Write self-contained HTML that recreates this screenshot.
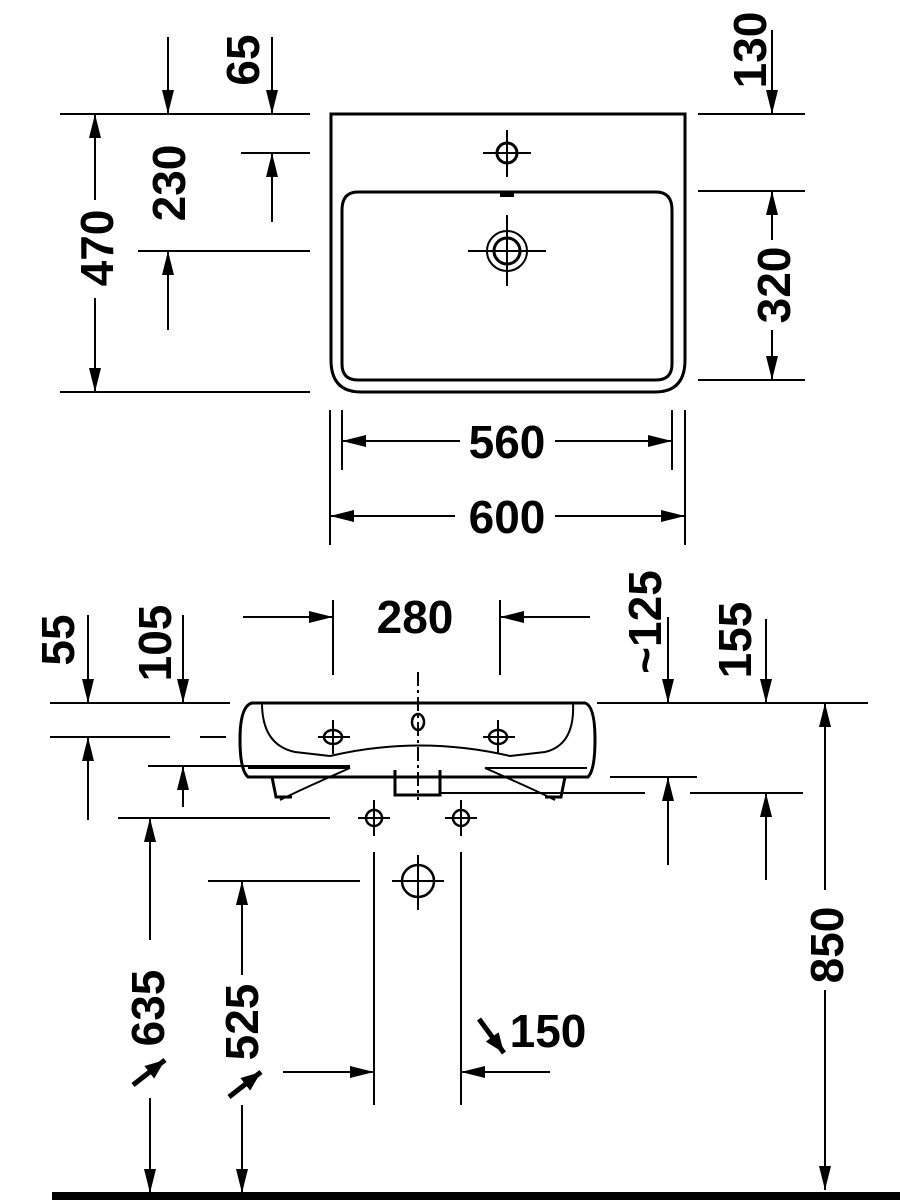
<!DOCTYPE html>
<html><head><meta charset="utf-8"><style>
html,body{margin:0;padding:0;background:#fff;}
svg{display:block}
text{font-family:"Liberation Sans Narrow","Liberation Sans",sans-serif;font-weight:bold;font-size:46px;fill:#000;}
</style></head><body>
<svg width="900" height="1200" viewBox="0 0 900 1200" xmlns="http://www.w3.org/2000/svg">
<defs>
<marker id="a" viewBox="0 0 24 12" refX="24" refY="6" markerWidth="24" markerHeight="12" markerUnits="userSpaceOnUse" orient="auto">
<path d="M0,0 L24,6 L0,12 Z" fill="#000"/></marker>
<marker id="b" viewBox="0 0 20 16" refX="20" refY="8" markerWidth="20" markerHeight="16" markerUnits="userSpaceOnUse" orient="auto">
<path d="M0,0 L20,8 L0,16 Z" fill="#000"/></marker>
</defs>
<g stroke="#000" stroke-width="2" fill="none">
<!-- TOP VIEW -->
<path d="M331,114 H685 V360 Q685,392 655,392 H361 Q331,392 331,360 Z" stroke-width="3"/>
<path d="M358,192 H656 Q672,192 672,210 V364 Q672,380 656,380 H358 Q342,380 342,364 V210 Q342,192 358,192 Z" stroke-width="3"/>
<circle cx="507" cy="153" r="10" stroke-width="3"/>
<line x1="483" y1="153" x2="531" y2="153"/><line x1="507" y1="130" x2="507" y2="177"/>
<circle cx="507" cy="251" r="20"/><circle cx="507" cy="251" r="13" stroke-width="3"/>
<line x1="468" y1="251" x2="546" y2="251"/><line x1="507" y1="215" x2="507" y2="286"/>
<line x1="500" y1="195" x2="514" y2="195" stroke-width="4"/>
<!-- top left dims -->
<line x1="60" y1="114" x2="310" y2="114"/>
<line x1="241" y1="153" x2="310" y2="153"/>
<line x1="138" y1="251" x2="310" y2="251"/>
<line x1="60" y1="392" x2="310" y2="392"/>
<line x1="168" y1="37" x2="168" y2="114" marker-end="url(#a)"/>
<line x1="272" y1="37" x2="272" y2="114" marker-end="url(#a)"/>
<line x1="272" y1="222" x2="272" y2="153" marker-end="url(#a)"/>
<line x1="168" y1="330" x2="168" y2="251" marker-end="url(#a)"/>
<line x1="95" y1="200" x2="95" y2="114" marker-end="url(#a)"/>
<line x1="95" y1="298" x2="95" y2="392" marker-end="url(#a)"/>
<!-- top right dims -->
<line x1="698" y1="114" x2="805" y2="114"/>
<line x1="698" y1="191" x2="805" y2="191"/>
<line x1="698" y1="380" x2="805" y2="380"/>
<line x1="772" y1="30" x2="772" y2="114" marker-end="url(#a)"/>
<line x1="772" y1="240" x2="772" y2="191" marker-end="url(#a)"/>
<line x1="772" y1="330" x2="772" y2="380" marker-end="url(#a)"/>
<!-- 560/600 -->
<line x1="342" y1="410" x2="342" y2="470"/><line x1="672" y1="410" x2="672" y2="470"/>
<line x1="330" y1="410" x2="330" y2="545"/><line x1="685" y1="410" x2="685" y2="545"/>
<line x1="460" y1="441" x2="342" y2="441" marker-end="url(#a)"/>
<line x1="555" y1="441" x2="672" y2="441" marker-end="url(#a)"/>
<line x1="455" y1="516" x2="330" y2="516" marker-end="url(#a)"/>
<line x1="555" y1="516" x2="685" y2="516" marker-end="url(#a)"/>

<!-- SIDE VIEW -->
<path d="M252,703 H585 Q595,706 595,740 Q595,770 588,777 H248 Q240,770 240,740 Q240,706 252,703 Z" stroke-width="3"/>
<path d="M262,703 Q262,745 295,752 L330,756 Q420,735 510,756 L545,752 Q575,745 573,703"/>
<path d="M248,768 H350 Q300,790 280,800 M587,768 H485 Q535,790 555,800"/>
<path d="M272,777 L276,797 H292 M565,777 L561,797 H545" stroke-width="3"/>
<path d="M395,770 V795 H440 V770" stroke-width="3"/>
<line x1="418" y1="672" x2="418" y2="800" stroke-dasharray="14,4,3,4"/>
<ellipse cx="418" cy="722" rx="6" ry="8" stroke-width="2.5"/>
<ellipse cx="333" cy="737" rx="9" ry="7" stroke-width="2.5"/>
<line x1="318" y1="737" x2="350" y2="737"/><line x1="333" y1="720" x2="333" y2="754"/>
<ellipse cx="498" cy="737" rx="9" ry="7" stroke-width="2.5"/>
<line x1="483" y1="737" x2="515" y2="737"/><line x1="498" y1="720" x2="498" y2="754"/>
<!-- side dims left -->
<line x1="50" y1="703" x2="230" y2="703"/>
<line x1="50" y1="737" x2="170" y2="737"/><line x1="200" y1="737" x2="226" y2="737"/>
<line x1="148" y1="766" x2="350" y2="766"/>
<line x1="88" y1="615" x2="88" y2="703" marker-end="url(#a)"/>
<line x1="88" y1="820" x2="88" y2="737" marker-end="url(#a)"/>
<line x1="183" y1="615" x2="183" y2="703" marker-end="url(#a)"/>
<line x1="183" y1="807" x2="183" y2="766" marker-end="url(#a)"/>
<!-- 280 -->
<line x1="333" y1="600" x2="333" y2="675"/><line x1="500" y1="600" x2="500" y2="675"/>
<line x1="243" y1="617" x2="333" y2="617" marker-end="url(#a)"/>
<line x1="590" y1="617" x2="500" y2="617" marker-end="url(#a)"/>
<!-- right side -->
<line x1="597" y1="703" x2="868" y2="703"/>
<line x1="610" y1="777" x2="697" y2="777"/>
<line x1="440" y1="793" x2="645" y2="793"/><line x1="690" y1="793" x2="803" y2="793"/>
<line x1="668" y1="617" x2="668" y2="703" marker-end="url(#a)"/>
<line x1="766" y1="619" x2="766" y2="703" marker-end="url(#a)"/>
<line x1="668" y1="865" x2="668" y2="777" marker-end="url(#a)"/>
<line x1="766" y1="880" x2="766" y2="793" marker-end="url(#a)"/>
<line x1="825" y1="890" x2="825" y2="703" marker-end="url(#a)"/>
<line x1="825" y1="990" x2="825" y2="1190" marker-end="url(#a)"/>
<!-- lower holes -->
<circle cx="374" cy="818" r="8" stroke-width="2.5"/><line x1="358" y1="818" x2="390" y2="818"/><line x1="374" y1="800" x2="374" y2="836"/>
<circle cx="461" cy="818" r="8" stroke-width="2.5"/><line x1="445" y1="818" x2="477" y2="818"/><line x1="461" y1="800" x2="461" y2="836"/>
<circle cx="418" cy="881" r="16" stroke-width="2.5"/><line x1="392" y1="881" x2="444" y2="881"/><line x1="418" y1="855" x2="418" y2="910"/>
<line x1="374" y1="852" x2="374" y2="1105"/><line x1="461" y1="852" x2="461" y2="1105"/>
<line x1="118" y1="818" x2="330" y2="818"/>
<line x1="208" y1="881" x2="360" y2="881"/>
<line x1="150" y1="940" x2="150" y2="818" marker-end="url(#a)"/>
<line x1="150" y1="1098" x2="150" y2="1193" marker-end="url(#a)"/>
<line x1="242" y1="975" x2="242" y2="881" marker-end="url(#a)"/>
<line x1="242" y1="1105" x2="242" y2="1193" marker-end="url(#a)"/>
<line x1="283" y1="1072" x2="374" y2="1072" marker-end="url(#a)"/>
<line x1="550" y1="1072" x2="461" y2="1072" marker-end="url(#a)"/>
<line x1="133" y1="1085" x2="165" y2="1060" stroke-width="5" marker-end="url(#b)"/>
<line x1="229" y1="1097" x2="261" y2="1072" stroke-width="5" marker-end="url(#b)"/>
<line x1="479" y1="1019" x2="504" y2="1053" stroke-width="5" marker-end="url(#b)"/>
</g>
<rect x="52" y="1192" width="848" height="8" fill="#000"/>
<!-- labels -->
<g text-anchor="middle">
<text transform="translate(243,60) rotate(-90)" dominant-baseline="central">65</text>
<text transform="translate(169,183) rotate(-90)" dominant-baseline="central">230</text>
<text transform="translate(97,248) rotate(-90)" dominant-baseline="central">470</text>
<text transform="translate(750,50) rotate(-90)" dominant-baseline="central">130</text>
<text transform="translate(774,285) rotate(-90)" dominant-baseline="central">320</text>
<text x="507" y="458">560</text>
<text x="507" y="533">600</text>
<text x="415" y="633">280</text>
<text transform="translate(58,640) rotate(-90)" dominant-baseline="central">55</text>
<text transform="translate(155,643) rotate(-90)" dominant-baseline="central">105</text>
<text transform="translate(645,622) rotate(-90)" dominant-baseline="central">~125</text>
<text transform="translate(735,640) rotate(-90)" dominant-baseline="central">155</text>
<text transform="translate(827,945) rotate(-90)" dominant-baseline="central">850</text>
<text transform="translate(148,1008) rotate(-90)" dominant-baseline="central">635</text>
<text transform="translate(242,1022) rotate(-90)" dominant-baseline="central">525</text>
<text x="548" y="1047">150</text>
</g>
</svg>
</body></html>
